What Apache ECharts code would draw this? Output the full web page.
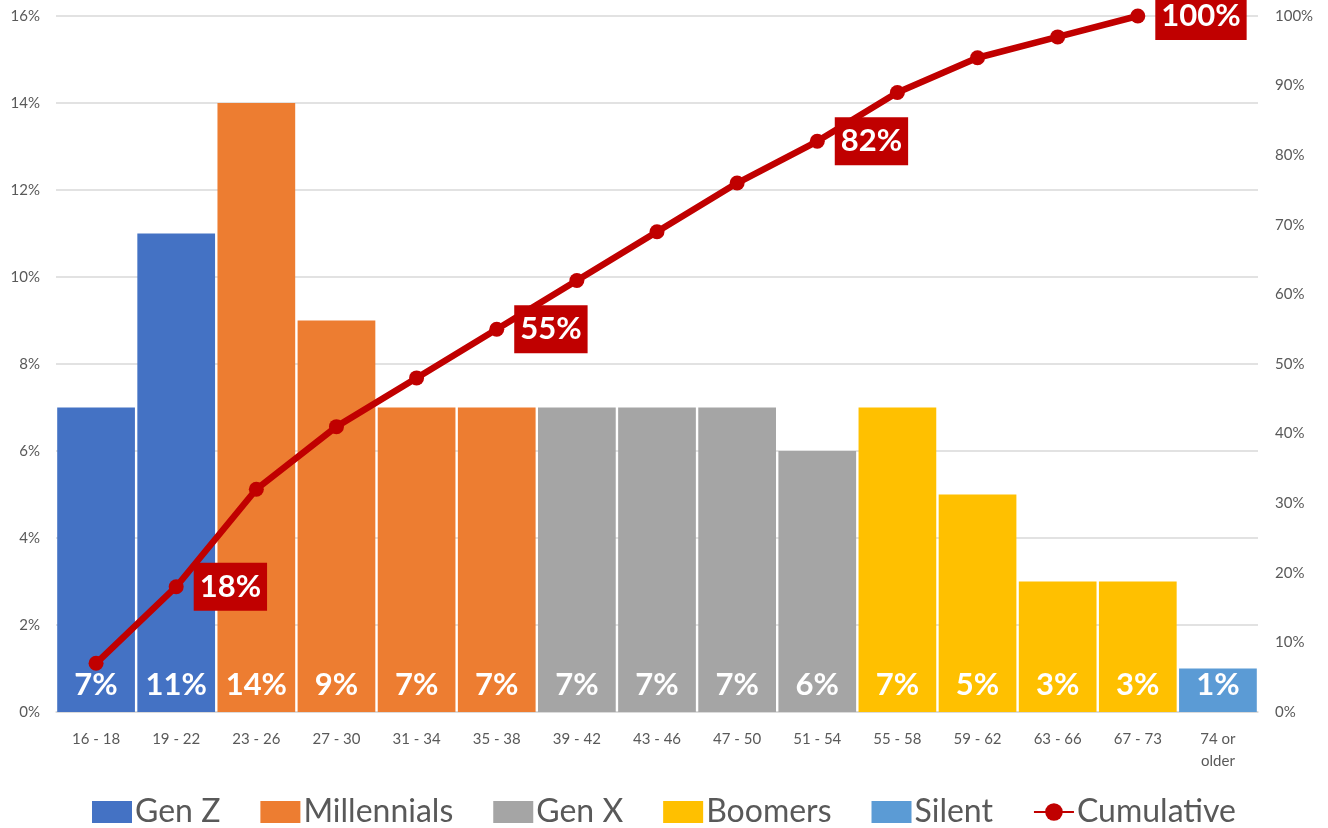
<!DOCTYPE html>
<html>
<head>
<meta charset="utf-8">
<script src="https://cdn.jsdelivr.net/npm/echarts@6/dist/echarts.min.js"></script>
<style>
  html, body { margin: 0; padding: 0; background: #fff; }
  #chart { width: 1328px; height: 828px; }
</style>
</head>
<body>
<div id="chart"></div>
<script>
// 年龄段
const categories = ['16 - 18', '19 - 22', '23 - 26', '27 - 30', '31 - 34', '35 - 38', '39 - 42', '43 - 46',
  '47 - 50', '51 - 54', '55 - 58', '59 - 62', '63 - 66', '67 - 73', '74 or\nolder']
// 各代人占比 (%), '-' 表示该年龄段不属于此代
const genZ = [7, 11, '-', '-', '-', '-', '-', '-', '-', '-', '-', '-', '-', '-', '-']
const millennials = ['-', '-', 14, 9, 7, 7, '-', '-', '-', '-', '-', '-', '-', '-', '-']
const genX = ['-', '-', '-', '-', '-', '-', 7, 7, 7, 6, '-', '-', '-', '-', '-']
const boomers = ['-', '-', '-', '-', '-', '-', '-', '-', '-', '-', 7, 5, 3, 3, '-']
const silent = ['-', '-', '-', '-', '-', '-', '-', '-', '-', '-', '-', '-', '-', '-', 1]
// 累计占比 (%)
const cumulative = [7, 18, 32, 41, 48, 55, 62, 69, 76, 82, 89, 94, 97, 100, '-']
// 需要显示标签的累计点
const labeledPoints = [1, 5, 9, 13]
// 坐标轴刻度
const leftAxis = {min: 0, max: 16, interval: 2}
const rightAxis = {min: 0, max: 100, interval: 10}

const font = 'Lato, "Open Sans", sans-serif'

const barSeries = (name, data, color) => ({
  name,
  type: 'bar',
  stack: 'gen',
  data,
  barCategoryGap: '3%',
  itemStyle: {color},
  label: {
    show: true,
    position: 'insideBottom',
    distance: 12,
    formatter: '{c}%',
    color: '#fff',
    fontFamily: font,
    fontWeight: 'bold',
    fontSize: 31
  }
})

const chart = echarts.init(document.getElementById('chart'))
chart.setOption({
  animation: false,
  textStyle: {fontFamily: font},
  grid: {left: 56, right: 70, top: 16, bottom: 116},
  legend: {
    top: 796,
    left: 'center',
    padding: 0,
    itemWidth: 40,
    itemHeight: 22,
    itemGap: 40,
    textStyle: {fontSize: 32, color: '#595959', fontFamily: font, padding: [0, 0, 0, -2]},
    data: [
      {name: 'Gen Z', icon: 'rect'},
      {name: 'Millennials', icon: 'rect'},
      {name: 'Gen X', icon: 'rect'},
      {name: 'Boomers', icon: 'rect'},
      {name: 'Silent', icon: 'rect'},
      {name: 'Cumulative', itemStyle: {borderWidth: 0}}
    ]
  },
  xAxis: {
    type: 'category',
    data: categories,
    axisTick: {show: false},
    axisLine: {lineStyle: {color: '#d9d9d9', width: 1.5}},
    axisLabel: {color: '#595959', fontSize: 15, margin: 16, interval: 0, lineHeight: 22}
  },
  yAxis: [
    {
      type: 'value',
      ...leftAxis,
      axisLabel: {formatter: '{value}%', color: '#595959', fontSize: 15, margin: 16},
      splitLine: {lineStyle: {color: '#d9d9d9', width: 1.5}},
      axisLine: {show: false},
      axisTick: {show: false}
    },
    {
      type: 'value',
      ...rightAxis,
      axisLabel: {formatter: '{value}%', color: '#595959', fontSize: 15, margin: 17},
      splitLine: {show: false},
      axisLine: {show: false},
      axisTick: {show: false}
    }
  ],
  series: [
    barSeries('Gen Z', genZ, '#4472C4'),
    barSeries('Millennials', millennials, '#ED7D31'),
    barSeries('Gen X', genX, '#A5A5A5'),
    barSeries('Boomers', boomers, '#FFC000'),
    barSeries('Silent', silent, '#5B9BD5'),
    {
      name: 'Cumulative',
      type: 'line',
      yAxisIndex: 1,
      data: cumulative.map((v, i) => ({
        value: v,
        label: {show: labeledPoints.includes(i)}
      })),
      symbol: 'circle',
      symbolSize: 15,
      lineStyle: {color: '#C00000', width: 6.5},
      itemStyle: {color: '#C00000'},
      z: 5,
      label: {
        position: 'right',
        distance: 10,
        formatter: '{c}%',
        color: '#fff',
        backgroundColor: '#C00000',
        padding: [10, 6, 7, 6],
        fontFamily: font,
        fontWeight: 'bold',
        fontSize: 31
      }
    }
  ]
})
</script>
</body>
</html>
